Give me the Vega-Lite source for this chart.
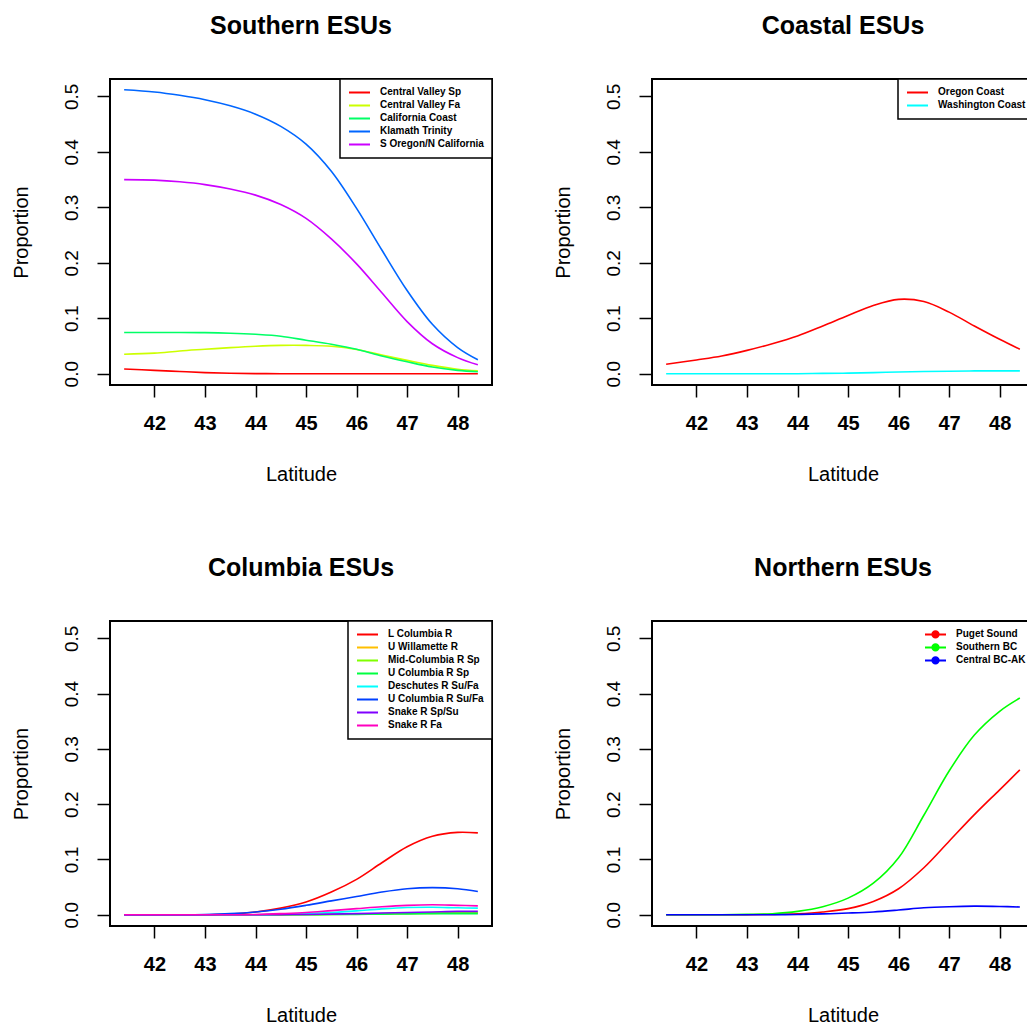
{
  "$schema": "https://vega.github.io/schema/vega-lite/v6.json",
  "background": "white",
  "padding": {"left": 10, "top": 13, "right": 0, "bottom": 0},
  "columns": 2,
  "bounds": "flush",
  "spacing": {"row": 236, "column": 160},
  "resolve": {"scale": {"color": "independent"}, "legend": {"color": "independent"}},
  "datasets": {
    "south": [
      {"s":"Central Valley Sp","x":41.4,"y":0.0085},{"s":"Central Valley Sp","x":42,"y":0.006},{"s":"Central Valley Sp","x":42.5,"y":0.004},{"s":"Central Valley Sp","x":43,"y":0.002},{"s":"Central Valley Sp","x":43.5,"y":0.0008},{"s":"Central Valley Sp","x":44,"y":0.0002},{"s":"Central Valley Sp","x":44.5,"y":0},{"s":"Central Valley Sp","x":45,"y":0},{"s":"Central Valley Sp","x":45.5,"y":0},{"s":"Central Valley Sp","x":46,"y":0},{"s":"Central Valley Sp","x":46.5,"y":0},{"s":"Central Valley Sp","x":47,"y":0},{"s":"Central Valley Sp","x":47.5,"y":0},{"s":"Central Valley Sp","x":48,"y":0},{"s":"Central Valley Sp","x":48.4,"y":0},
      {"s":"Central Valley Fa","x":41.4,"y":0.035},{"s":"Central Valley Fa","x":42,"y":0.037},{"s":"Central Valley Fa","x":42.5,"y":0.041},{"s":"Central Valley Fa","x":43,"y":0.044},{"s":"Central Valley Fa","x":43.5,"y":0.047},{"s":"Central Valley Fa","x":44,"y":0.0495},{"s":"Central Valley Fa","x":44.5,"y":0.051},{"s":"Central Valley Fa","x":45,"y":0.051},{"s":"Central Valley Fa","x":45.5,"y":0.0495},{"s":"Central Valley Fa","x":46,"y":0.0437},{"s":"Central Valley Fa","x":46.5,"y":0.0335},{"s":"Central Valley Fa","x":47,"y":0.024},{"s":"Central Valley Fa","x":47.5,"y":0.015},{"s":"Central Valley Fa","x":48,"y":0.008},{"s":"Central Valley Fa","x":48.4,"y":0.005},
      {"s":"California Coast","x":41.4,"y":0.0743},{"s":"California Coast","x":42,"y":0.0743},{"s":"California Coast","x":42.5,"y":0.0742},{"s":"California Coast","x":43,"y":0.074},{"s":"California Coast","x":43.5,"y":0.073},{"s":"California Coast","x":44,"y":0.071},{"s":"California Coast","x":44.5,"y":0.0676},{"s":"California Coast","x":45,"y":0.0604},{"s":"California Coast","x":45.5,"y":0.053},{"s":"California Coast","x":46,"y":0.044},{"s":"California Coast","x":46.5,"y":0.032},{"s":"California Coast","x":47,"y":0.0215},{"s":"California Coast","x":47.5,"y":0.012},{"s":"California Coast","x":48,"y":0.006},{"s":"California Coast","x":48.4,"y":0.0035},
      {"s":"Klamath Trinity","x":41.4,"y":0.512},{"s":"Klamath Trinity","x":42,"y":0.508},{"s":"Klamath Trinity","x":42.5,"y":0.502},{"s":"Klamath Trinity","x":43,"y":0.494},{"s":"Klamath Trinity","x":43.5,"y":0.483},{"s":"Klamath Trinity","x":44,"y":0.468},{"s":"Klamath Trinity","x":44.5,"y":0.446},{"s":"Klamath Trinity","x":45,"y":0.414},{"s":"Klamath Trinity","x":45.5,"y":0.365},{"s":"Klamath Trinity","x":46,"y":0.298},{"s":"Klamath Trinity","x":46.5,"y":0.223},{"s":"Klamath Trinity","x":47,"y":0.15},{"s":"Klamath Trinity","x":47.5,"y":0.089},{"s":"Klamath Trinity","x":48,"y":0.047},{"s":"Klamath Trinity","x":48.4,"y":0.025},
      {"s":"S Oregon/N California","x":41.4,"y":0.35},{"s":"S Oregon/N California","x":42,"y":0.349},{"s":"S Oregon/N California","x":42.5,"y":0.346},{"s":"S Oregon/N California","x":43,"y":0.341},{"s":"S Oregon/N California","x":43.5,"y":0.333},{"s":"S Oregon/N California","x":44,"y":0.322},{"s":"S Oregon/N California","x":44.5,"y":0.305},{"s":"S Oregon/N California","x":45,"y":0.28},{"s":"S Oregon/N California","x":45.5,"y":0.243},{"s":"S Oregon/N California","x":46,"y":0.198},{"s":"S Oregon/N California","x":46.5,"y":0.146},{"s":"S Oregon/N California","x":47,"y":0.094},{"s":"S Oregon/N California","x":47.5,"y":0.054},{"s":"S Oregon/N California","x":48,"y":0.029},{"s":"S Oregon/N California","x":48.4,"y":0.016}
    ],
    "coast": [
      {"s":"Oregon Coast","x":41.4,"y":0.0169},{"s":"Oregon Coast","x":42,"y":0.0248},{"s":"Oregon Coast","x":42.5,"y":0.032},{"s":"Oregon Coast","x":43,"y":0.042},{"s":"Oregon Coast","x":43.5,"y":0.054},{"s":"Oregon Coast","x":44,"y":0.068},{"s":"Oregon Coast","x":44.5,"y":0.086},{"s":"Oregon Coast","x":45,"y":0.105},{"s":"Oregon Coast","x":45.5,"y":0.123},{"s":"Oregon Coast","x":46,"y":0.134},{"s":"Oregon Coast","x":46.5,"y":0.13},{"s":"Oregon Coast","x":47,"y":0.111},{"s":"Oregon Coast","x":47.5,"y":0.086},{"s":"Oregon Coast","x":48,"y":0.062},{"s":"Oregon Coast","x":48.4,"y":0.044},
      {"s":"Washington Coast","x":41.4,"y":0},{"s":"Washington Coast","x":42,"y":0},{"s":"Washington Coast","x":42.5,"y":0},{"s":"Washington Coast","x":43,"y":0},{"s":"Washington Coast","x":43.5,"y":0},{"s":"Washington Coast","x":44,"y":0},{"s":"Washington Coast","x":44.5,"y":0.0005},{"s":"Washington Coast","x":45,"y":0.001},{"s":"Washington Coast","x":45.5,"y":0.002},{"s":"Washington Coast","x":46,"y":0.003},{"s":"Washington Coast","x":46.5,"y":0.004},{"s":"Washington Coast","x":47,"y":0.0045},{"s":"Washington Coast","x":47.5,"y":0.005},{"s":"Washington Coast","x":48,"y":0.005},{"s":"Washington Coast","x":48.4,"y":0.005}
    ],
    "columbia": [
      {"s":"L Columbia R","x":41.4,"y":0},{"s":"L Columbia R","x":42,"y":0},{"s":"L Columbia R","x":42.5,"y":0},{"s":"L Columbia R","x":43,"y":0},{"s":"L Columbia R","x":43.5,"y":0.001},{"s":"L Columbia R","x":44,"y":0.005},{"s":"L Columbia R","x":44.5,"y":0.012},{"s":"L Columbia R","x":45,"y":0.023},{"s":"L Columbia R","x":45.5,"y":0.041},{"s":"L Columbia R","x":46,"y":0.064},{"s":"L Columbia R","x":46.5,"y":0.094},{"s":"L Columbia R","x":47,"y":0.123},{"s":"L Columbia R","x":47.5,"y":0.142},{"s":"L Columbia R","x":48,"y":0.149},{"s":"L Columbia R","x":48.4,"y":0.148},
      {"s":"U Willamette R","x":41.4,"y":0},{"s":"U Willamette R","x":42,"y":0},{"s":"U Willamette R","x":42.5,"y":0},{"s":"U Willamette R","x":43,"y":0},{"s":"U Willamette R","x":43.5,"y":0},{"s":"U Willamette R","x":44,"y":0},{"s":"U Willamette R","x":44.5,"y":0.0002},{"s":"U Willamette R","x":45,"y":0.0005},{"s":"U Willamette R","x":45.5,"y":0.0008},{"s":"U Willamette R","x":46,"y":0.001},{"s":"U Willamette R","x":46.5,"y":0.0015},{"s":"U Willamette R","x":47,"y":0.002},{"s":"U Willamette R","x":47.5,"y":0.0025},{"s":"U Willamette R","x":48,"y":0.003},{"s":"U Willamette R","x":48.4,"y":0.003},
      {"s":"Mid-Columbia R Sp","x":41.4,"y":0},{"s":"Mid-Columbia R Sp","x":42,"y":0},{"s":"Mid-Columbia R Sp","x":42.5,"y":0},{"s":"Mid-Columbia R Sp","x":43,"y":0},{"s":"Mid-Columbia R Sp","x":43.5,"y":0},{"s":"Mid-Columbia R Sp","x":44,"y":0},{"s":"Mid-Columbia R Sp","x":44.5,"y":0},{"s":"Mid-Columbia R Sp","x":45,"y":0.0003},{"s":"Mid-Columbia R Sp","x":45.5,"y":0.0006},{"s":"Mid-Columbia R Sp","x":46,"y":0.001},{"s":"Mid-Columbia R Sp","x":46.5,"y":0.002},{"s":"Mid-Columbia R Sp","x":47,"y":0.003},{"s":"Mid-Columbia R Sp","x":47.5,"y":0.0035},{"s":"Mid-Columbia R Sp","x":48,"y":0.004},{"s":"Mid-Columbia R Sp","x":48.4,"y":0.004},
      {"s":"U Columbia R Sp","x":41.4,"y":0},{"s":"U Columbia R Sp","x":42,"y":0},{"s":"U Columbia R Sp","x":42.5,"y":0},{"s":"U Columbia R Sp","x":43,"y":0},{"s":"U Columbia R Sp","x":43.5,"y":0},{"s":"U Columbia R Sp","x":44,"y":0},{"s":"U Columbia R Sp","x":44.5,"y":0},{"s":"U Columbia R Sp","x":45,"y":0},{"s":"U Columbia R Sp","x":45.5,"y":0.0003},{"s":"U Columbia R Sp","x":46,"y":0.0006},{"s":"U Columbia R Sp","x":46.5,"y":0.001},{"s":"U Columbia R Sp","x":47,"y":0.0015},{"s":"U Columbia R Sp","x":47.5,"y":0.002},{"s":"U Columbia R Sp","x":48,"y":0.002},{"s":"U Columbia R Sp","x":48.4,"y":0.002},
      {"s":"Deschutes R Su/Fa","x":41.4,"y":0},{"s":"Deschutes R Su/Fa","x":42,"y":0},{"s":"Deschutes R Su/Fa","x":42.5,"y":0},{"s":"Deschutes R Su/Fa","x":43,"y":0},{"s":"Deschutes R Su/Fa","x":43.5,"y":0},{"s":"Deschutes R Su/Fa","x":44,"y":0},{"s":"Deschutes R Su/Fa","x":44.5,"y":0.001},{"s":"Deschutes R Su/Fa","x":45,"y":0.002},{"s":"Deschutes R Su/Fa","x":45.5,"y":0.004},{"s":"Deschutes R Su/Fa","x":46,"y":0.007},{"s":"Deschutes R Su/Fa","x":46.5,"y":0.0105},{"s":"Deschutes R Su/Fa","x":47,"y":0.013},{"s":"Deschutes R Su/Fa","x":47.5,"y":0.0135},{"s":"Deschutes R Su/Fa","x":48,"y":0.0125},{"s":"Deschutes R Su/Fa","x":48.4,"y":0.012},
      {"s":"U Columbia R Su/Fa","x":41.4,"y":0},{"s":"U Columbia R Su/Fa","x":42,"y":0},{"s":"U Columbia R Su/Fa","x":42.5,"y":0},{"s":"U Columbia R Su/Fa","x":43,"y":0.0005},{"s":"U Columbia R Su/Fa","x":43.5,"y":0.002},{"s":"U Columbia R Su/Fa","x":44,"y":0.005},{"s":"U Columbia R Su/Fa","x":44.5,"y":0.01},{"s":"U Columbia R Su/Fa","x":45,"y":0.017},{"s":"U Columbia R Su/Fa","x":45.5,"y":0.025},{"s":"U Columbia R Su/Fa","x":46,"y":0.033},{"s":"U Columbia R Su/Fa","x":46.5,"y":0.041},{"s":"U Columbia R Su/Fa","x":47,"y":0.047},{"s":"U Columbia R Su/Fa","x":47.5,"y":0.049},{"s":"U Columbia R Su/Fa","x":48,"y":0.047},{"s":"U Columbia R Su/Fa","x":48.4,"y":0.042},
      {"s":"Snake R Sp/Su","x":41.4,"y":0},{"s":"Snake R Sp/Su","x":42,"y":0},{"s":"Snake R Sp/Su","x":42.5,"y":0},{"s":"Snake R Sp/Su","x":43,"y":0},{"s":"Snake R Sp/Su","x":43.5,"y":0},{"s":"Snake R Sp/Su","x":44,"y":0},{"s":"Snake R Sp/Su","x":44.5,"y":0.0002},{"s":"Snake R Sp/Su","x":45,"y":0.0005},{"s":"Snake R Sp/Su","x":45.5,"y":0.001},{"s":"Snake R Sp/Su","x":46,"y":0.002},{"s":"Snake R Sp/Su","x":46.5,"y":0.003},{"s":"Snake R Sp/Su","x":47,"y":0.004},{"s":"Snake R Sp/Su","x":47.5,"y":0.005},{"s":"Snake R Sp/Su","x":48,"y":0.006},{"s":"Snake R Sp/Su","x":48.4,"y":0.006},
      {"s":"Snake R Fa","x":41.4,"y":0},{"s":"Snake R Fa","x":42,"y":0},{"s":"Snake R Fa","x":42.5,"y":0},{"s":"Snake R Fa","x":43,"y":0},{"s":"Snake R Fa","x":43.5,"y":0},{"s":"Snake R Fa","x":44,"y":0.0005},{"s":"Snake R Fa","x":44.5,"y":0.002},{"s":"Snake R Fa","x":45,"y":0.004},{"s":"Snake R Fa","x":45.5,"y":0.0075},{"s":"Snake R Fa","x":46,"y":0.011},{"s":"Snake R Fa","x":46.5,"y":0.0145},{"s":"Snake R Fa","x":47,"y":0.017},{"s":"Snake R Fa","x":47.5,"y":0.018},{"s":"Snake R Fa","x":48,"y":0.017},{"s":"Snake R Fa","x":48.4,"y":0.016}
    ],
    "north": [
      {"s":"Puget Sound","x":41.4,"y":0},{"s":"Puget Sound","x":42,"y":0},{"s":"Puget Sound","x":42.5,"y":0},{"s":"Puget Sound","x":43,"y":0},{"s":"Puget Sound","x":43.5,"y":0.0005},{"s":"Puget Sound","x":44,"y":0.0018},{"s":"Puget Sound","x":44.5,"y":0.005},{"s":"Puget Sound","x":45,"y":0.011},{"s":"Puget Sound","x":45.5,"y":0.024},{"s":"Puget Sound","x":46,"y":0.047},{"s":"Puget Sound","x":46.5,"y":0.085},{"s":"Puget Sound","x":47,"y":0.133},{"s":"Puget Sound","x":47.5,"y":0.181},{"s":"Puget Sound","x":48,"y":0.226},{"s":"Puget Sound","x":48.4,"y":0.262},
      {"s":"Southern BC","x":41.4,"y":0},{"s":"Southern BC","x":42,"y":0},{"s":"Southern BC","x":42.5,"y":0},{"s":"Southern BC","x":43,"y":0.0006},{"s":"Southern BC","x":43.5,"y":0.0018},{"s":"Southern BC","x":44,"y":0.006},{"s":"Southern BC","x":44.5,"y":0.0145},{"s":"Southern BC","x":45,"y":0.03},{"s":"Southern BC","x":45.5,"y":0.057},{"s":"Southern BC","x":46,"y":0.103},{"s":"Southern BC","x":46.5,"y":0.18},{"s":"Southern BC","x":47,"y":0.26},{"s":"Southern BC","x":47.5,"y":0.325},{"s":"Southern BC","x":48,"y":0.368},{"s":"Southern BC","x":48.4,"y":0.392},
      {"s":"Central BC-AK","x":41.4,"y":0},{"s":"Central BC-AK","x":42,"y":0},{"s":"Central BC-AK","x":42.5,"y":0},{"s":"Central BC-AK","x":43,"y":0},{"s":"Central BC-AK","x":43.5,"y":0},{"s":"Central BC-AK","x":44,"y":0.0005},{"s":"Central BC-AK","x":44.5,"y":0.0015},{"s":"Central BC-AK","x":45,"y":0.003},{"s":"Central BC-AK","x":45.5,"y":0.005},{"s":"Central BC-AK","x":46,"y":0.0085},{"s":"Central BC-AK","x":46.5,"y":0.0125},{"s":"Central BC-AK","x":47,"y":0.0145},{"s":"Central BC-AK","x":47.5,"y":0.0155},{"s":"Central BC-AK","x":48,"y":0.015},{"s":"Central BC-AK","x":48.4,"y":0.014}
    ]
  },
  "concat": [
    {
      "name": "south",
      "title": "Southern ESUs",
      "width": 382, "height": 306,
      "data": {"name": "south"},
      "mark": {"type": "line", "strokeWidth": 1.6, "interpolate": "catmull-rom", "clip": true},
      "encoding": {
        "x": {"field": "x", "type": "quantitative", "title": "Latitude", "scale": {"domain": [41.12, 48.68], "nice": false, "zero": false}, "axis": {"values": [42,43,44,45,46,47,48], "format": "d"}},
        "y": {"field": "y", "type": "quantitative", "title": "Proportion", "scale": {"domain": [-0.0204, 0.5314], "nice": false, "zero": false}, "axis": {"values": [0,0.1,0.2,0.3,0.4,0.5], "format": ".1f"}},
        "color": {"field": "s", "type": "nominal", "scale": {"domain": ["Central Valley Sp","Central Valley Fa","California Coast","Klamath Trinity","S Oregon/N California"], "range": ["#FF0000","#CCFF00","#00FF66","#0066FF","#CC00FF"]}, "legend": {"title": null}}
      }
    },
    {
      "name": "coast",
      "title": "Coastal ESUs",
      "width": 382, "height": 306,
      "data": {"name": "coast"},
      "mark": {"type": "line", "strokeWidth": 1.6, "interpolate": "catmull-rom", "clip": true},
      "encoding": {
        "x": {"field": "x", "type": "quantitative", "title": "Latitude", "scale": {"domain": [41.12, 48.68], "nice": false, "zero": false}, "axis": {"values": [42,43,44,45,46,47,48], "format": "d"}},
        "y": {"field": "y", "type": "quantitative", "title": "Proportion", "scale": {"domain": [-0.0204, 0.5314], "nice": false, "zero": false}, "axis": {"values": [0,0.1,0.2,0.3,0.4,0.5], "format": ".1f"}},
        "color": {"field": "s", "type": "nominal", "scale": {"domain": ["Oregon Coast","Washington Coast"], "range": ["#FF0000","#00FFFF"]}, "legend": {"title": null}}
      }
    },
    {
      "name": "columbia",
      "title": "Columbia ESUs",
      "width": 382, "height": 305,
      "data": {"name": "columbia"},
      "mark": {"type": "line", "strokeWidth": 1.6, "interpolate": "catmull-rom", "clip": true},
      "encoding": {
        "x": {"field": "x", "type": "quantitative", "title": "Latitude", "scale": {"domain": [41.12, 48.68], "nice": false, "zero": false}, "axis": {"values": [42,43,44,45,46,47,48], "format": "d"}},
        "y": {"field": "y", "type": "quantitative", "title": "Proportion", "scale": {"domain": [-0.0204, 0.5314], "nice": false, "zero": false}, "axis": {"values": [0,0.1,0.2,0.3,0.4,0.5], "format": ".1f"}},
        "color": {"field": "s", "type": "nominal", "scale": {"domain": ["L Columbia R","U Willamette R","Mid-Columbia R Sp","U Columbia R Sp","Deschutes R Su/Fa","U Columbia R Su/Fa","Snake R Sp/Su","Snake R Fa"], "range": ["#FF0000","#FFBF00","#80FF00","#00FF40","#00FFFF","#0040FF","#8000FF","#FF00BF"]}, "legend": {"title": null}}
      }
    },
    {
      "name": "north",
      "title": "Northern ESUs",
      "width": 382, "height": 305,
      "data": {"name": "north"},
      "mark": {"type": "line", "strokeWidth": 1.6, "interpolate": "catmull-rom", "clip": true},
      "encoding": {
        "x": {"field": "x", "type": "quantitative", "title": "Latitude", "scale": {"domain": [41.12, 48.68], "nice": false, "zero": false}, "axis": {"values": [42,43,44,45,46,47,48], "format": "d"}},
        "y": {"field": "y", "type": "quantitative", "title": "Proportion", "scale": {"domain": [-0.0204, 0.5314], "nice": false, "zero": false}, "axis": {"values": [0,0.1,0.2,0.3,0.4,0.5], "format": ".1f"}},
        "color": {"field": "s", "type": "nominal", "scale": {"domain": ["Puget Sound","Southern BC","Central BC-AK"], "range": ["#FF0000","#00FF00","#0000FF"]},
          "legend": {"title": null, "strokeColor": "transparent", "fillColor": "transparent",
            "symbolType": "M-1,0H1M-0.3,0A0.3,0.3,0,1,1,0.3,0A0.3,0.3,0,1,1,-0.3,0Z",
            "encode": {"symbols": {"update": {"fill": {"signal": "scale('north_color', datum.value)"}}}}}}
      }
    }
  ],
  "config": {
    "font": "Liberation Sans",
    "view": {"stroke": "black", "strokeWidth": 2},
    "title": {"font": "Liberation Sans", "fontSize": 25, "fontWeight": "bold", "color": "black", "anchor": "middle", "frame": "group", "baseline": "alphabetic", "offset": 39},
    "axis": {"domain": false, "grid": false, "ticks": true, "tickColor": "black", "tickWidth": 1.5, "labelColor": "black", "titleColor": "black", "labelFont": "Liberation Sans", "titleFont": "Liberation Sans", "titleFontWeight": "normal", "titleFontSize": 20},
    "axisX": {"tickSize": 12, "labelFontSize": 20, "labelFontWeight": "bold", "labelBaseline": "alphabetic", "labelPadding": 32, "titleBaseline": "alphabetic", "titleY": 95, "labelFlush": false, "labelOverlap": false},
    "axisY": {"tickSize": 13, "labelFontSize": 19, "labelFontWeight": "normal", "labelAngle": 270, "labelAlign": "center", "labelBaseline": "alphabetic", "labelPadding": 20, "titleBaseline": "alphabetic", "titleX": -83, "labelFlush": false, "labelOverlap": false},
    "legend": {"orient": "top-right", "offset": 0, "strokeColor": "black", "strokeWidth": 1.5, "fillColor": "white", "padding": 8, "labelFont": "Liberation Sans", "labelFontSize": 10, "labelFontWeight": "bold", "labelColor": "black", "symbolType": "stroke", "symbolSize": 441, "symbolStrokeWidth": 2, "rowPadding": 2, "clipHeight": 10.8, "labelOffset": 9, "labelLimit": 300}
  }
}
